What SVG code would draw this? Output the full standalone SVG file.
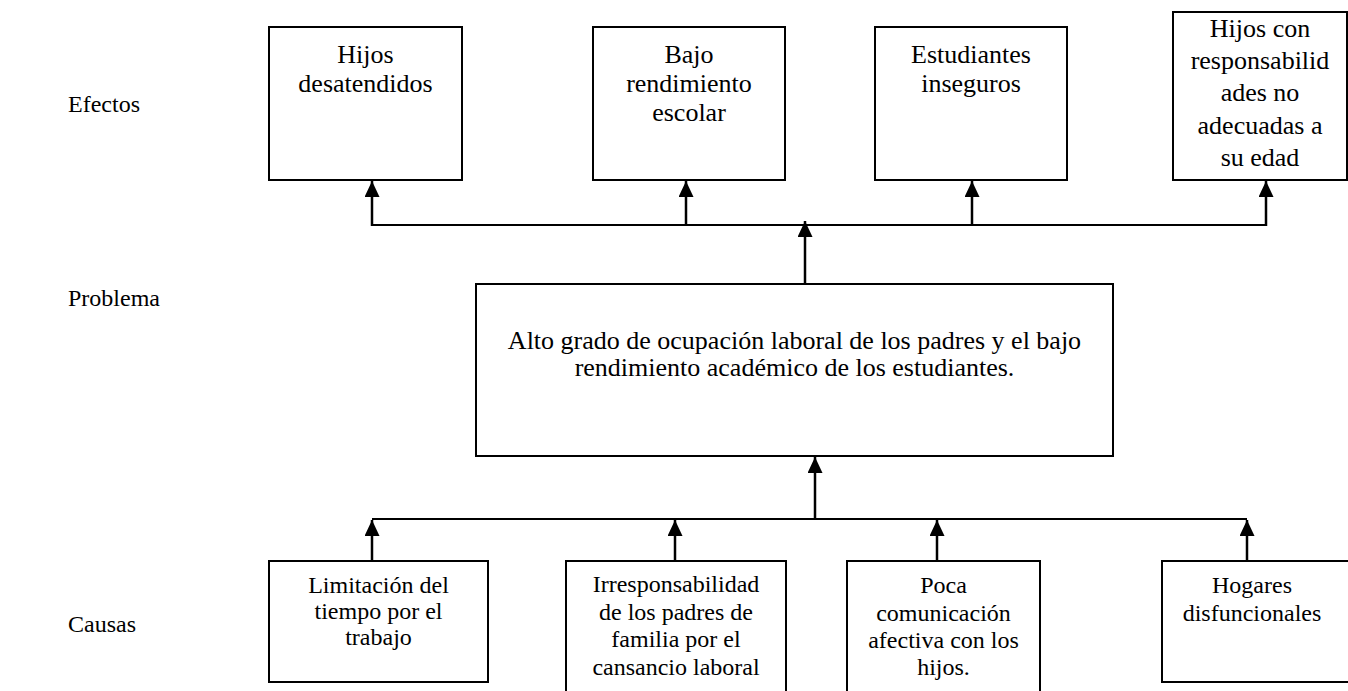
<svg xmlns="http://www.w3.org/2000/svg" width="1348" height="691" viewBox="0 0 1348 691">
<style>
.box{fill:#fff;stroke:#000;stroke-width:2}
.t{font-family:'Liberation Serif','Times New Roman',Times,'DejaVu Serif',serif;font-size:26px;fill:#000;text-anchor:middle}
.s{font-size:24px}
.lbl{font-family:'Liberation Serif','Times New Roman',Times,'DejaVu Serif',serif;font-size:24px;fill:#000}
.ln{stroke:#000;stroke-width:2;fill:none}
.ar{stroke:#000;stroke-width:2.5;fill:none;marker-end:url(#ah)}
</style>
<defs>
<marker id="ah" markerUnits="userSpaceOnUse" markerWidth="16" markerHeight="16" refX="16" refY="7.5" orient="auto">
<path d="M0,0 L16,7.5 L0,15 Z" fill="#000"/>
</marker>
</defs>
<rect width="1348" height="691" fill="#fff"/>
<g id="labels">
<text class="lbl" x="68" y="112">Efectos</text>
<text class="lbl" x="68" y="306">Problema</text>
<text class="lbl" x="68" y="632">Causas</text>
</g>
<g id="connectors">
<line class="ln" x1="372" y1="225" x2="1266" y2="225"/>
<line class="ar" x1="372" y1="226" x2="372" y2="181"/>
<line class="ar" x1="686" y1="226" x2="686" y2="181"/>
<line class="ar" x1="972" y1="226" x2="972" y2="181"/>
<line class="ar" x1="1266" y1="226" x2="1266" y2="181"/>
<line class="ar" x1="805" y1="285" x2="805" y2="221"/>
<line class="ln" x1="372" y1="519" x2="1247" y2="519"/>
<line class="ar" x1="372" y1="561" x2="372" y2="520"/>
<line class="ar" x1="675" y1="561" x2="675" y2="520"/>
<line class="ar" x1="937" y1="561" x2="937" y2="520"/>
<line class="ar" x1="1247" y1="561" x2="1247" y2="520"/>
<line class="ar" x1="815" y1="519" x2="815" y2="457"/>
</g>
<g id="e1">
<rect class="box" x="269" y="27" width="193" height="153"/>
<text class="t" x="365.5" y="63">Hijos</text>
<text class="t" x="365.5" y="92">desatendidos</text>
</g>
<g id="e2">
<rect class="box" x="593" y="27" width="192" height="153"/>
<text class="t" x="689" y="63">Bajo</text>
<text class="t" x="689" y="92">rendimiento</text>
<text class="t" x="689" y="121">escolar</text>
</g>
<g id="e3">
<rect class="box" x="875" y="27" width="192" height="153"/>
<text class="t" x="971" y="63">Estudiantes</text>
<text class="t" x="971" y="92">inseguros</text>
</g>
<g id="e4">
<rect class="box" x="1173" y="12" width="174" height="168"/>
<text class="t" x="1260" y="37">Hijos con</text>
<text class="t" x="1260" y="69">responsabilid</text>
<text class="t" x="1260" y="101">ades no</text>
<text class="t" x="1260" y="134">adecuadas a</text>
<text class="t" x="1260" y="166">su edad</text>
</g>
<g id="problema">
<rect class="box" x="476" y="284" width="637" height="172"/>
<text class="t" x="794.5" y="349">Alto grado de ocupación laboral de los padres y el bajo</text>
<text class="t" x="794.5" y="376">rendimiento académico de los estudiantes.</text>
</g>
<g id="c1">
<rect class="box" x="269" y="561" width="219" height="121"/>
<text class="t s" x="378.5" y="593">Limitación del</text>
<text class="t s" x="378.5" y="619">tiempo por el</text>
<text class="t s" x="378.5" y="645">trabajo</text>
</g>
<g id="c2">
<rect class="box" x="566" y="561" width="220" height="140"/>
<text class="t s" x="676" y="592">Irresponsabilidad</text>
<text class="t s" x="676" y="620">de los padres de</text>
<text class="t s" x="676" y="647">familia por el</text>
<text class="t s" x="676" y="675">cansancio laboral</text>
</g>
<g id="c3">
<rect class="box" x="847" y="561" width="193" height="140"/>
<text class="t s" x="943.5" y="593">Poca</text>
<text class="t s" x="943.5" y="621">comunicación</text>
<text class="t s" x="943.5" y="648">afectiva con los</text>
<text class="t s" x="943.5" y="675">hijos.</text>
</g>
<g id="c4">
<rect class="box" x="1162" y="561" width="200" height="121"/>
<text class="t s" x="1252" y="593">Hogares</text>
<text class="t s" x="1252" y="621">disfuncionales</text>
</g>
</svg>
